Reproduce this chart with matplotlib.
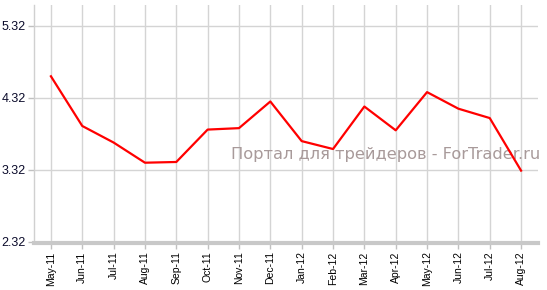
import matplotlib
matplotlib.use("Agg")
import matplotlib.pyplot as plt

# monthly values
months = ["May-11", "Jun-11", "Jul-11", "Aug-11", "Sep-11", "Oct-11", "Nov-11", "Dec-11",
          "Jan-12", "Feb-12", "Mar-12", "Apr-12", "May-12", "Jun-12", "Jul-12", "Aug-12"]
values = [4.62, 3.93, 3.70, 3.42, 3.43, 3.88, 3.90, 4.27,
          3.72, 3.61, 4.20, 3.87, 4.40, 4.17, 4.04, 3.31]
yticks = [2.32, 3.32, 4.32, 5.32]

fig = plt.figure(figsize=(5.47, 2.90), dpi=100)
ax = fig.add_axes([34 / 547, 47 / 290, 504 / 547, 238 / 290])

x = list(range(len(months)))
ax.plot(x, values, color="#ff0000", linewidth=1.6, zorder=5)

ax.set_xlim(-0.54, len(months) - 1 + 0.54)
ax.set_ylim(2.305, 5.61)
ax.set_xticks(x)
ax.set_xticklabels(months, rotation=90, fontsize=7.5, family="Liberation Sans")
ax.set_yticks(yticks)
ax.set_yticklabels([f"{v:.2f}" for v in yticks], fontsize=9, family="Liberation Sans",
                   color="#0a0a2a")

ax.grid(True, color="#d4d4d4", linewidth=1.0)
ax.set_axisbelow(True)
for s in ["top", "right"]:
    ax.spines[s].set_visible(False)
ax.spines["left"].set_color("#d0d0d0")
ax.spines["left"].set_linewidth(1.0)
ax.spines["bottom"].set_color("#c8c8c8")
ax.spines["bottom"].set_linewidth(3.0)
ax.tick_params(axis="both", color="#c0c0c0", length=4, width=1, pad=2)

ax.text(1.004, 0.37, "Портал для трейдеров - ForTrader.ru", transform=ax.transAxes,
        ha="right", va="center", fontsize=11.7, color="#a89a9a", family="DejaVu Sans",
        zorder=4, clip_on=False)

fig.savefig("out.png", dpi=100)
